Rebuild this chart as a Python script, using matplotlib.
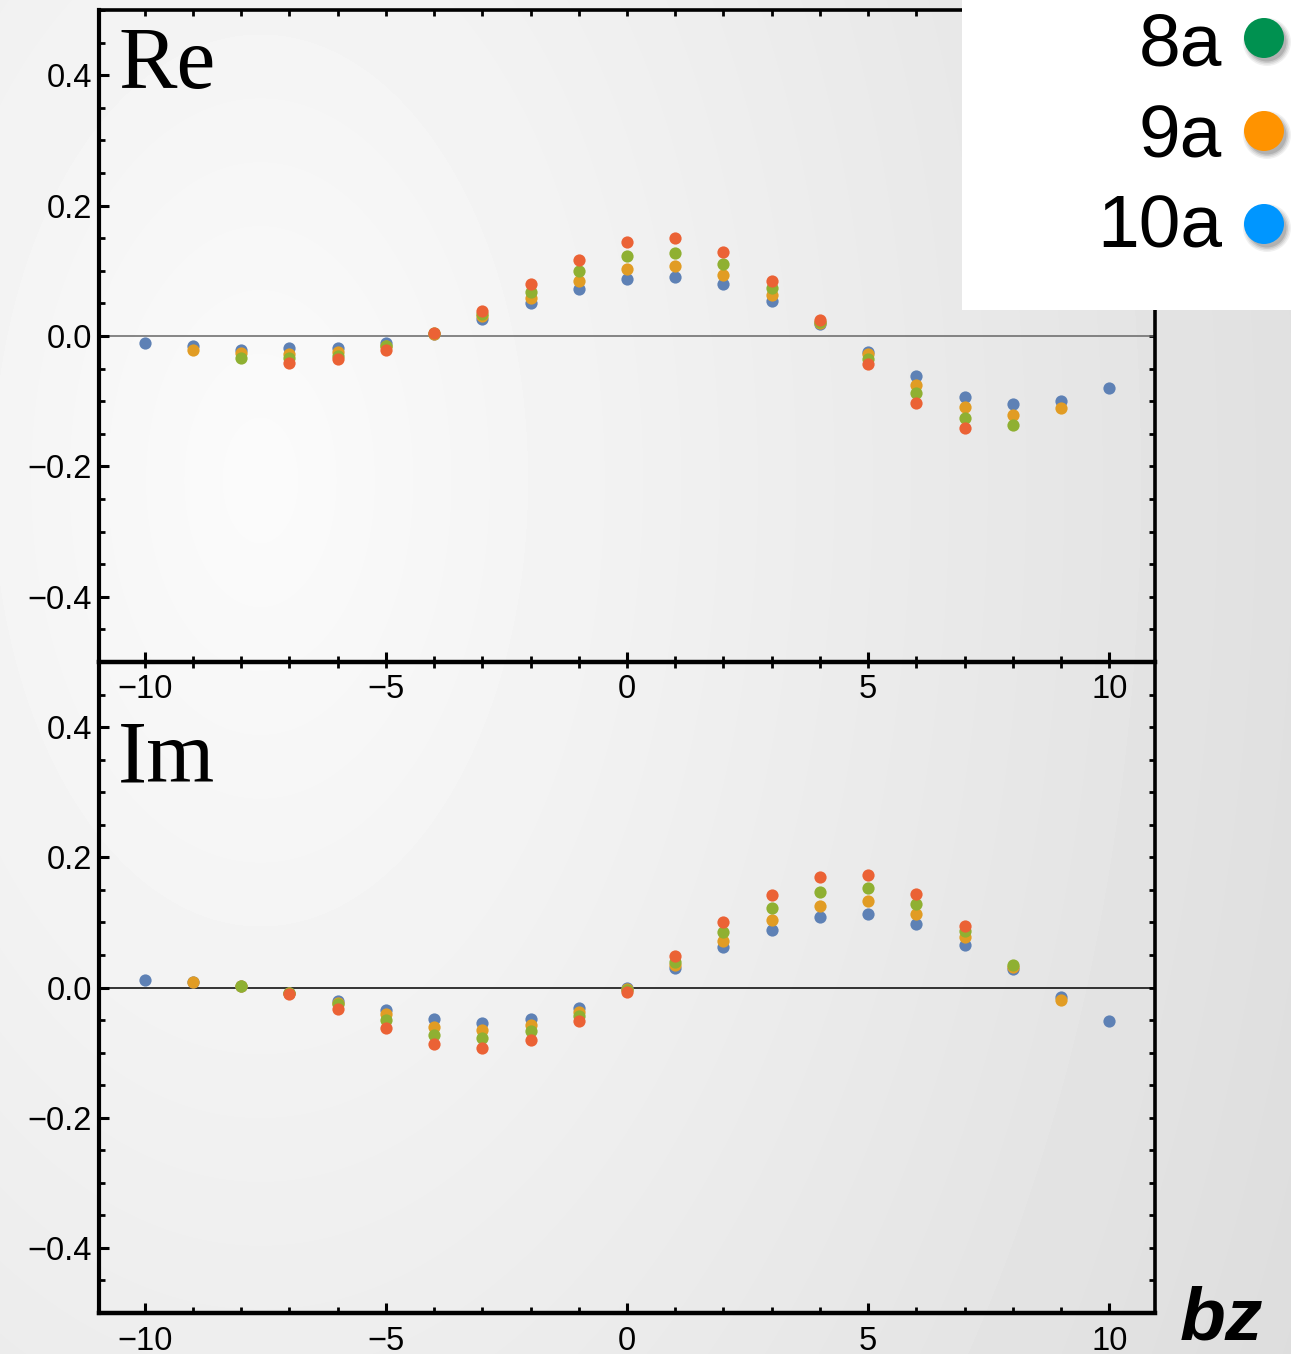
import numpy as np
import matplotlib
matplotlib.use("Agg")
import matplotlib.pyplot as plt
from matplotlib.ticker import MultipleLocator, FuncFormatter
from matplotlib.patches import Rectangle, Circle

# ---- data -------------------------------------------------------------
bz_10a = list(range(-10, 11))
bz_9a = list(range(-9, 10))
bz_8a = list(range(-8, 9))
bz_7a = list(range(-7, 8))

re_10a = [-0.010, -0.016, -0.021, -0.019, -0.018, -0.011, 0.003, 0.026, 0.050, 0.072, 0.087,
          0.091, 0.080, 0.054, 0.019, -0.024, -0.062, -0.093, -0.105, -0.099, -0.080]
re_9a = [-0.021, -0.026, -0.028, -0.025, -0.015, 0.003, 0.030, 0.058, 0.084, 0.103,
         0.107, 0.094, 0.063, 0.020, -0.028, -0.075, -0.109, -0.121, -0.111]
re_8a = [-0.033, -0.034, -0.030, -0.016, 0.004, 0.033, 0.067, 0.099, 0.122,
         0.127, 0.111, 0.073, 0.022, -0.035, -0.088, -0.125, -0.136]
re_7a = [-0.041, -0.036, -0.021, 0.004, 0.039, 0.079, 0.117, 0.144,
         0.150, 0.129, 0.085, 0.025, -0.043, -0.103, -0.141]

im_10a = [0.011, 0.009, 0.003, -0.009, -0.021, -0.034, -0.048, -0.055, -0.049, -0.031, -0.001,
          0.030, 0.062, 0.088, 0.108, 0.113, 0.098, 0.066, 0.028, -0.015, -0.052]
im_9a = [0.008, 0.003, -0.009, -0.024, -0.041, -0.060, -0.066, -0.058, -0.038, -0.003,
         0.034, 0.072, 0.103, 0.125, 0.133, 0.113, 0.077, 0.031, -0.019]
im_8a = [0.003, -0.009, -0.026, -0.050, -0.073, -0.078, -0.067, -0.044, -0.004,
         0.039, 0.085, 0.122, 0.146, 0.153, 0.128, 0.087, 0.034]
im_7a = [-0.010, -0.033, -0.062, -0.087, -0.093, -0.081, -0.052, -0.007,
         0.048, 0.101, 0.142, 0.169, 0.173, 0.144, 0.094]

panel_titles = ["Re", "Im"]
legend_labels = ["8a", "9a", "10a"]
x_ticks = [-10, -5, 0, 5, 10]
y_ticks = [-0.4, -0.2, 0.0, 0.2, 0.4]

# ---- styling ----------------------------------------------------------
c_blue, c_orange, c_green, c_red = "#5E81B5", "#E19C24", "#8FB032", "#EB6235"
legend_colors = ["#009150", "#FF9300", "#0096FF"]
sans = ["Liberation Sans", "DejaVu Sans"]
serif = ["Liberation Serif", "DejaVu Serif"]

W, H = 1291, 1354
fig = plt.figure(figsize=(W / 100, H / 100), dpi=100)

# soft background shade, lightest left of centre, darker toward the right
bg = fig.add_axes([0, 0, 1, 1], zorder=-10)
yy, xx = np.mgrid[0:H, 0:W]
dist = np.hypot((xx - 260) * 1.0, (yy - 480) * 0.6)
shade = np.clip(251 - 0.026 * dist, 216, 252) / 255.0
bg.imshow(shade, cmap="gray", vmin=0, vmax=1, extent=(0, W, H, 0), aspect="auto",
          interpolation="bilinear")
bg.set_xlim(0, W)
bg.set_ylim(H, 0)
bg.axis("off")


def fmt(v, _pos):
    s = "0.0" if abs(v) < 1e-9 else f"{v:.1f}"
    return s.replace("-", "\u2212")


def fmt_x(v, _pos):
    return f"{int(round(v))}".replace("-", "\u2212")


left, width = 99 / W, (1155 - 99) / W
axes_specs = [
    (1 - 662 / H, (662 - 10) / H),
    (1 - 1313 / H, (1313 - 662) / H),
]
series_sets = [
    [(bz_10a, re_10a, c_blue), (bz_9a, re_9a, c_orange), (bz_8a, re_8a, c_green), (bz_7a, re_7a, c_red)],
    [(bz_10a, im_10a, c_blue), (bz_9a, im_9a, c_orange), (bz_8a, im_8a, c_green), (bz_7a, im_7a, c_red)],
]
title_y = [0.880, 0.817]
zero_colors = ["#666666", "#000000"]

for i, ((bottom, height), series) in enumerate(zip(axes_specs, series_sets)):
    ax = fig.add_axes([left, bottom, width, height])
    ax.set_facecolor("none")
    ax.set_xlim(-10.95, 10.95)
    ax.set_ylim(-0.5, 0.5)
    ax.axhline(0, color=zero_colors[i], lw=1.1, zorder=1)
    for xs, ys, col in series:
        ax.plot(xs, ys, "o", color=col, ms=8.8, mew=0, zorder=3)

    ax.xaxis.set_minor_locator(MultipleLocator(1))
    ax.yaxis.set_minor_locator(MultipleLocator(0.05))
    ax.set_yticks(y_ticks)
    ax.set_xticks(x_ticks)
    ax.yaxis.set_major_formatter(FuncFormatter(fmt))
    ax.xaxis.set_major_formatter(FuncFormatter(fmt_x))
    ax.tick_params(which="major", direction="in", length=7, width=2.2, labelsize=23.5,
                   top=False, right=False)
    ax.tick_params(which="minor", direction="in", length=4, width=2.0, top=False, right=False)
    ax.tick_params(axis="x", which="major", pad=9)
    ax.tick_params(axis="y", which="major", pad=5)
    for lab in ax.get_xticklabels() + ax.get_yticklabels():
        lab.set_fontfamily(sans)

    for side, lw in [("left", 3.0), ("bottom", 3.2), ("right", 2.6), ("top", 2.6)]:
        ax.spines[side].set_linewidth(lw)

    sec_r = ax.secondary_yaxis("right")
    sec_r.set_yticks(np.round(np.arange(-0.5, 0.501, 0.05), 2))
    sec_r.tick_params(direction="in", length=4, width=2.0, labelright=False)
    sec_r.spines["right"].set_visible(False)
    sec_t = ax.secondary_xaxis("top")
    sec_t.set_xticks(np.arange(-10, 11, 1))
    sec_t.tick_params(direction="in", length=4, width=2.0, labeltop=False)
    sec_t.spines["top"].set_visible(False)

    ax.text(0.018, title_y[i], panel_titles[i], transform=ax.transAxes, ha="left",
            va="baseline", fontsize=63, family=serif)

# axis label in the lower right corner
fig.text(1180 / W, 1 - 1340 / H, "bz", ha="left", va="baseline", fontsize=54,
         family=sans, style="italic", weight="bold")

# key box in the upper right corner
ov = fig.add_axes([0, 0, 1, 1], zorder=20)
ov.set_xlim(0, W)
ov.set_ylim(H, 0)
ov.axis("off")
ov.add_patch(Rectangle((962, -2), W - 962 + 2, 312, facecolor="white", edgecolor="none"))
dot_y = [38, 131, 224]
text_base = [65, 157, 248]
for lab, col, dy, tb in zip(legend_labels, legend_colors, dot_y, text_base):
    for k, a in enumerate([0.06, 0.07, 0.09, 0.12]):
        ov.add_patch(Circle((1267, dy + 4), 24 - 1.5 * k, facecolor="black", alpha=a,
                            edgecolor="none"))
    ov.add_patch(Circle((1264, dy), 20, facecolor=col, edgecolor="none"))
    ov.text(1222, tb, lab, ha="right", va="baseline", fontsize=54, family=sans)

fig.savefig("out.png", dpi=100)
